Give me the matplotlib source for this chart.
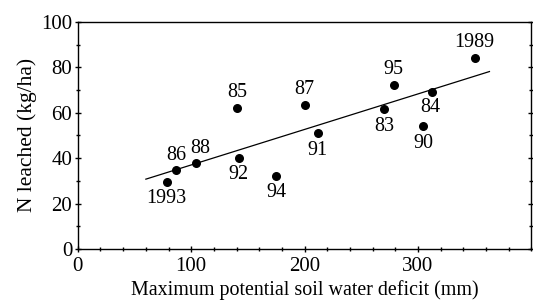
import numpy as np
import matplotlib
matplotlib.use('Agg')
import matplotlib.pyplot as plt
from matplotlib.ticker import MultipleLocator

# data
years = ['1993', '86', '88', '85', '92', '94', '87', '91', '83', '95', '84', '90', '1989']
deficit = [79, 86.5, 104, 140.5, 142, 175, 200, 212, 270, 279, 312, 304, 350]
n_leached = [29.5, 34.8, 37.9, 62, 40.2, 32.3, 63.3, 51, 61.7, 72.2, 69.3, 54.3, 84.3]
fit_range = [60, 363]

# label placement: offset in points (dx, dy)
label_offsets = [(-1, -12), (0, 10.5), (3.5, 10.5), (0, 11), (0, -12), (0, -12),
                 (-0.5, 11.5), (-0.5, -12.5), (0, -13), (-0.5, 11.5), (-1, -11.5),
                 (0.5, -13), (0, 11)]

plt.rcParams['font.family'] = ['Liberation Serif', 'DejaVu Serif']

fig = plt.figure(figsize=(5.33, 3.04), dpi=100)
ax = fig.add_axes([0.146, 0.181, 0.851, 0.747])

ax.scatter(deficit, n_leached, s=30, color='black', zorder=3)

slope, icpt = np.polyfit(deficit, n_leached, 1)
xs = np.array(fit_range)
ax.plot(xs, slope * xs + icpt, color='black', lw=0.9)

for lab, x, y, off in zip(years, deficit, n_leached, label_offsets):
    ax.annotate(lab, (x, y), xytext=off, textcoords='offset points',
                ha='center', va='center', fontsize=14.5)

ax.set_xlim(0, 400)
ax.set_ylim(0, 100)
ax.set_xticks([0, 100, 200, 300])
ax.set_yticks([0, 20, 40, 60, 80, 100])
ax.xaxis.set_minor_locator(MultipleLocator(20))
ax.yaxis.set_minor_locator(MultipleLocator(10))

ax.tick_params(axis='both', which='both', direction='inout', labelsize=15,
               right=True, top=False, width=1)
ax.tick_params(which='major', length=4)
ax.tick_params(which='minor', length=3)
ax.tick_params(axis='x', which='major', pad=4)
ax.tick_params(axis='y', which='major', pad=2)
for s in ax.spines.values():
    s.set_linewidth(1)

ax.set_xlabel('Maximum potential soil water deficit (mm)', fontsize=14.4, labelpad=3)
ax.set_ylabel('N leached (kg/ha)', fontsize=15.5, labelpad=3)

fig.savefig('out.png', dpi=100)
